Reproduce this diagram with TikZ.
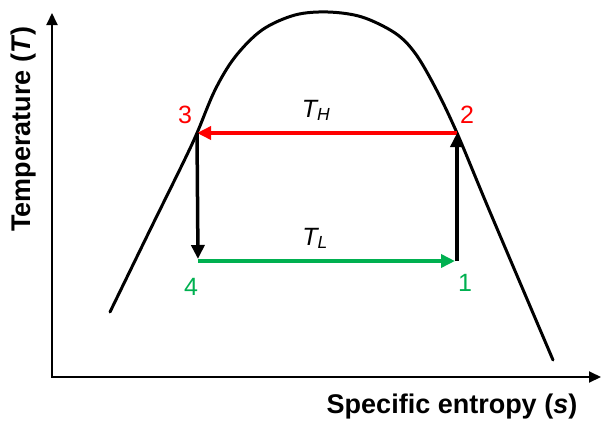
\documentclass[tikz,border=0pt]{standalone}
\usepackage{fontspec}
\setmainfont{Liberation Sans}
\usetikzlibrary{arrows.meta}
\definecolor{cred}{RGB}{255,0,0}
\definecolor{cgreen}{RGB}{0,176,80}
\begin{document}
\begin{tikzpicture}[x=1pt,y=-1pt,
 axis/.style={line width=2pt,line join=miter,{Triangle[length=12pt,width=11pt]}-{Triangle[length=12pt,width=11pt]}},
 proc/.style={line width=3.5pt,-{Triangle[length=14pt,width=13pt]}},
 lbl/.style={font=\fontsize{25}{28}\selectfont, inner sep=0pt},
 axlbl/.style={font=\bfseries\fontsize{27}{30}\selectfont, inner sep=0pt}]
\useasboundingbox (0,0) rectangle (602,426);
\coordinate (O) at (52,377);
\coordinate (ytip) at (52,13);
\coordinate (xtip) at (601,377);
\draw[axis] (ytip) -- (O) -- (xtip);
\draw[line width=3pt, line cap=round] plot[smooth, tension=0.55] coordinates {
 (110,312) (150,230) (183,163) (197,133) (215,90) (235,57) (262,30) (295,15)
 (328,12) (362,17) (395,33) (415,53) (435,87) (457,133) (490,212) (553,360)};
\coordinate (p3) at (197,133);
\coordinate (p2) at (457,133);
\coordinate (p4) at (198,261);
\coordinate (p1) at (457,261);
\draw[proc,cred] (p2) -- (p3);
\draw[proc,black,shorten >=2pt] (p3) -- (p4);
\draw[proc,cgreen,shorten >=2pt] (p4) -- (p1);
\draw[proc,black] (p1) -- (p2);
\node[lbl,cred] (n3) at (185,115) {3};
\node[lbl,cred] (n2) at (467,115) {2};
\node[lbl,cgreen] (n4) at (191,287) {4};
\node[lbl,cgreen] (n1) at (465,283) {1};
\node[lbl,anchor=base] (th) at (316,117) {\itshape T\textsubscript{H}};
\node[lbl,anchor=base] (tl) at (315,245) {\itshape T\textsubscript{L}};
\node[axlbl,rotate=90] (ylab) at (24,129) {Temperature (\textit{T})};
\node[axlbl] (xlab) at (452,407) {Specific entropy (\textit{s})};
\end{tikzpicture}
\end{document}
